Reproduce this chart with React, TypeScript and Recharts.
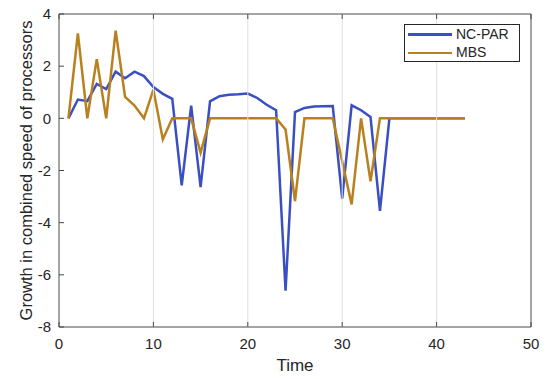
import { LineChart, Line, XAxis, YAxis, Legend } from 'recharts';

const FONT = '"Liberation Sans", Arial, Helvetica, sans-serif';
const INK = '#262626';
const BOX = '#4a4a4a';
const GRID = '#e0e0e0';
const BLUE = '#3a50c2';
const GOLD = '#b8801e';

const time = [
  1, 2, 3, 4, 5, 6, 7, 8, 9, 10, 11, 12, 13, 14, 15, 16, 17, 18, 19, 20, 21, 22,
  23, 24, 25, 26, 27, 28, 29, 30, 31, 32, 33, 34, 35, 36, 37, 38, 39, 40, 41, 42, 43,
];

const ncPar = [
  0, 0.72, 0.66, 1.32, 1.12, 1.79, 1.54, 1.79, 1.62, 1.2, 0.94, 0.75, -2.57, 0.49,
  -2.64, 0.65, 0.85, 0.9, 0.92, 0.95, 0.78, 0.52, 0.31, -6.61, 0.24, 0.4, 0.45, 0.46,
  0.47, -3.08, 0.5, 0.31, 0.05, -3.55, 0, 0, 0, 0, 0, 0, 0, 0, 0,
];

const mbs = [
  0, 3.26, 0, 2.27, 0, 3.36, 0.82, 0.49, 0, 1.1, -0.81, 0, 0, 0, -1.32, 0, 0, 0, 0,
  0, 0, 0, 0, -0.43, -3.17, 0, 0, 0, 0, -1.65, -3.3, 0, -2.41, 0, 0, 0, 0, 0, 0, 0,
  0, 0, 0,
];

const xDomain = [0, 50];
const yDomain = [-8, 4];
const xTicks = [0, 10, 20, 30, 40, 50];
const yTicks = [-8, -6, -4, -2, 0, 2, 4];

const seriesNames = ['NC-PAR', 'MBS'];

const data = time.map((t, i) => ({ t, ncPar: ncPar[i], mbs: mbs[i] }));

// chart frame
const W = 550;
const H = 379;
const M = { top: 13, right: 18, bottom: 0, left: 0 };
const TOP_AXIS_H = 1;
const BOTTOM_AXIS_H = 52;
const LEFT_AXIS_W = 59;
const RIGHT_AXIS_W = 1;
const PLOT_W = W - M.left - M.right - LEFT_AXIS_W - RIGHT_AXIS_W;
const PLOT_H = H - M.top - M.bottom - TOP_AXIS_H - BOTTOM_AXIS_H;

const TICK_LEN = 5;

function BottomTick({ x, y, payload }: any) {
  return (
    <g>
      <line x1={x} x2={x} y1={y} y2={y - TICK_LEN} stroke={BOX} />
      <text x={x} y={y + 21.5} textAnchor="middle" fill={INK} fontSize={15} fontFamily={FONT}>
        {payload.value}
      </text>
    </g>
  );
}

// the top axis carries the vertical grid lines as well as its inward ticks
function TopTick({ x, y, payload }: any) {
  const edge = payload.value === xDomain[0] || payload.value === xDomain[1];
  return (
    <g>
      {!edge && <line x1={x} x2={x} y1={y} y2={y + PLOT_H} stroke={GRID} />}
      <line x1={x} x2={x} y1={y} y2={y + TICK_LEN} stroke={BOX} />
    </g>
  );
}

function LeftTick({ x, y, payload }: any) {
  return (
    <g>
      <line x1={x} x2={x + TICK_LEN} y1={y} y2={y} stroke={BOX} />
      <text x={x - 8} y={y + 5.3} textAnchor="end" fill={INK} fontSize={15} fontFamily={FONT}>
        {payload.value}
      </text>
    </g>
  );
}

// the right axis carries the horizontal grid lines
function RightTick({ x, y, payload }: any) {
  const edge = payload.value === yDomain[0] || payload.value === yDomain[1];
  return (
    <g>
      {!edge && <line x1={x} x2={x - PLOT_W} y1={y} y2={y} stroke={GRID} />}
      <line x1={x} x2={x - TICK_LEN} y1={y} y2={y} stroke={BOX} />
    </g>
  );
}

function LegendBox({ payload }: any) {
  const items = [...(payload || [])].sort(
    (a: any, b: any) => seriesNames.indexOf(a.value) - seriesNames.indexOf(b.value),
  );
  return (
    <div
      style={{
        width: 116,
        height: 38,
        boxSizing: 'border-box',
        border: `1px solid ${INK}`,
        background: '#fff',
        position: 'relative',
        fontFamily: FONT,
        fontSize: 14,
        color: INK,
      }}
    >
      {items.map((entry: any, i: number) => (
        <div
          key={entry.value}
          style={{ position: 'absolute', left: 3, top: 1 + i * 18.4, height: 17, width: 110 }}
        >
          <span
            style={{
              position: 'absolute',
              left: 0,
              top: 7.2,
              width: 44,
              height: 2.6,
              background: entry.color,
            }}
          />
          <span style={{ position: 'absolute', left: 48, top: 0, lineHeight: '17px' }}>
            {entry.value}
          </span>
        </div>
      ))}
    </div>
  );
}

export default function App() {
  return (
    <div style={{ position: 'absolute', left: 0, top: 0, width: W, height: H, background: '#fff' }}>
      <LineChart width={W} height={H} data={data} margin={M}>
        <XAxis
          xAxisId="top"
          orientation="top"
          dataKey="t"
          type="number"
          domain={xDomain}
          ticks={xTicks}
          interval={0}
          height={TOP_AXIS_H}
          tickSize={0}
          tickMargin={0}
          stroke={BOX}
          tick={<TopTick />}
        />
        <YAxis
          yAxisId="right"
          orientation="right"
          type="number"
          domain={yDomain}
          ticks={yTicks}
          interval={0}
          width={RIGHT_AXIS_W}
          tickSize={0}
          tickMargin={0}
          stroke={BOX}
          tick={<RightTick />}
        />
        <XAxis
          dataKey="t"
          type="number"
          domain={xDomain}
          ticks={xTicks}
          interval={0}
          height={BOTTOM_AXIS_H}
          tickSize={0}
          tickMargin={0}
          stroke={BOX}
          tick={<BottomTick />}
          label={{
            value: 'Time',
            position: 'insideBottom',
            offset: 8.5,
            fill: INK,
            fontSize: 17,
            fontFamily: FONT,
          }}
        />
        <YAxis
          type="number"
          domain={yDomain}
          ticks={yTicks}
          interval={0}
          width={LEFT_AXIS_W}
          tickSize={0}
          tickMargin={0}
          stroke={BOX}
          tick={<LeftTick />}
          label={{
            value: 'Growth in combined speed of processors',
            angle: -90,
            position: 'insideLeft',
            offset: 0,
            content: ({ viewBox }: any) => {
              const cx = viewBox.x + 25.5;
              const cy = viewBox.y + viewBox.height / 2;
              return (
                <text
                  x={cx}
                  y={cy}
                  transform={`rotate(-90 ${cx} ${cy})`}
                  textAnchor="middle"
                  dominantBaseline="central"
                  fill={INK}
                  fontSize={16.5}
                  fontFamily={FONT}
                >
                  Growth in combined speed of processors
                </text>
              );
            },
          }}
        />
        <Legend
          layout="vertical"
          align="center"
          verticalAlign="middle"
          content={<LegendBox />}
          wrapperStyle={{ position: 'absolute', top: 24, left: 404, width: 116, height: 38 }}
        />
        <Line
          type="linear"
          dataKey="ncPar"
          name={seriesNames[0]}
          stroke={BLUE}
          strokeWidth={2.5}
          dot={false}
          activeDot={false}
          isAnimationActive={false}
        />
        <Line
          type="linear"
          dataKey="mbs"
          name={seriesNames[1]}
          stroke={GOLD}
          strokeWidth={2.5}
          dot={false}
          activeDot={false}
          isAnimationActive={false}
        />
      </LineChart>
    </div>
  );
}
